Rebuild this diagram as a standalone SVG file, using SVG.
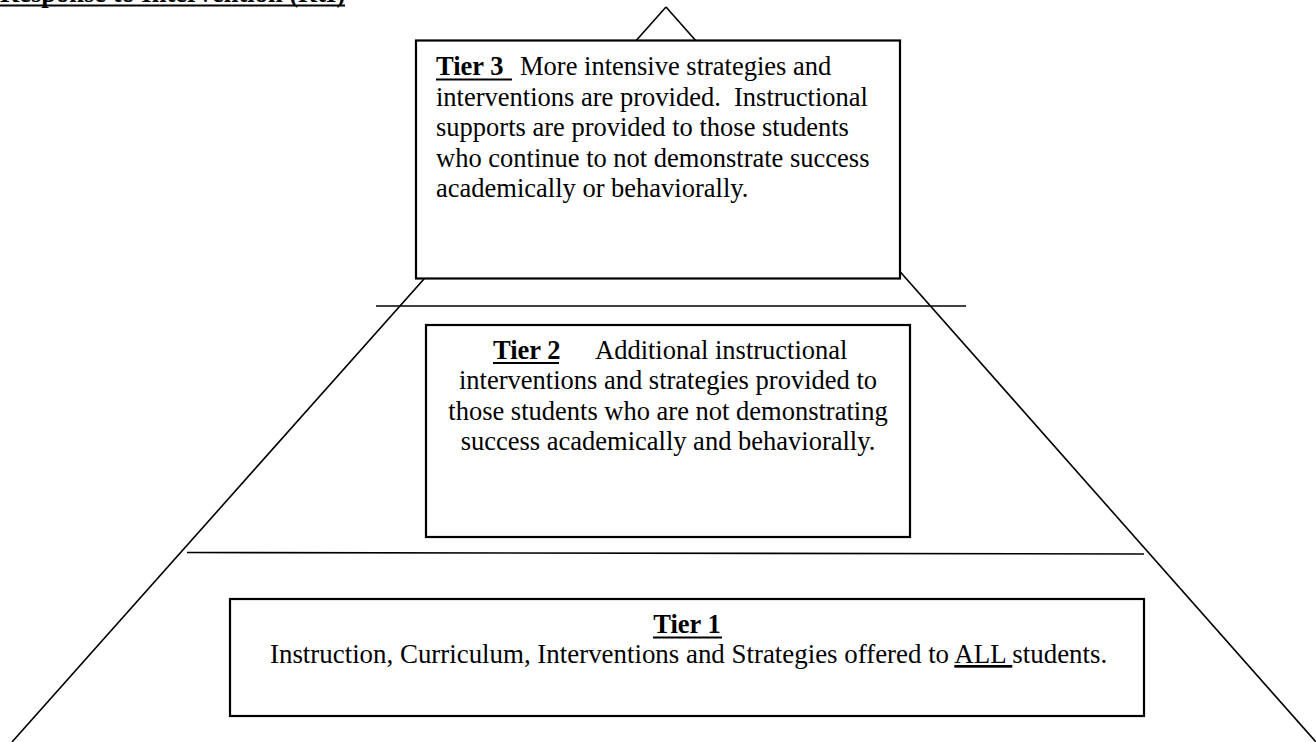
<svg xmlns="http://www.w3.org/2000/svg" width="1316" height="742" viewBox="0 0 1316 742">
<style>
.t{font-family:"Liberation Serif","Times New Roman",serif;font-size:26.5px;fill:#000;white-space:pre}
.b{font-weight:bold}
.box{fill:#fff;stroke:#000;stroke-width:2.2}
.ln{stroke:#000;stroke-width:1.6;fill:none}
.ul{stroke:#000;stroke-width:2}
</style>
<rect width="1316" height="742" fill="#fff"/>
<g id="title">
<text class="t b" x="0" y="2">Response to Intervention (RtI)</text>
<line class="ul" x1="0" y1="5.5" x2="345" y2="5.5" stroke-width="3"/>
</g>
<g id="connectors">
<line class="ln" x1="666" y1="7" x2="12" y2="742"/>
<line class="ln" x1="666" y1="7" x2="1316" y2="742"/>
<line class="ln" x1="376" y1="306" x2="966" y2="306"/>
<line class="ln" x1="187" y1="552.5" x2="1144" y2="554"/>
</g>
<g id="tier3">
<rect class="box" x="416" y="40.5" width="484" height="238"/>
<text class="t b" x="436" y="75">Tier 3</text>
<text class="t" x="520" y="75">More intensive strategies and</text>
<line class="ul" x1="436" y1="79.5" x2="512" y2="79.5"/>
<text class="t" x="436" y="105.5" xml:space="preserve">interventions are provided.  Instructional</text>
<text class="t" x="436" y="136">supports are provided to those students</text>
<text class="t" x="436" y="166.5">who continue to not demonstrate success</text>
<text class="t" x="436" y="197">academically or behaviorally.</text>
</g>
<g id="tier2">
<rect class="box" x="426" y="325" width="484" height="212"/>
<text class="t b" x="493" y="359">Tier 2</text>
<line class="ul" x1="493" y1="363" x2="559" y2="363"/>
<text class="t" x="595" y="359">Additional instructional</text>
<text class="t" x="668" y="389" text-anchor="middle">interventions and strategies provided to</text>
<text class="t" x="668" y="419.5" text-anchor="middle">those students who are not demonstrating</text>
<text class="t" x="668" y="450" text-anchor="middle">success academically and behaviorally.</text>
</g>
<g id="tier1">
<rect class="box" x="230" y="599" width="914" height="117"/>
<text class="t b" x="687" y="633" text-anchor="middle">Tier 1</text>
<line class="ul" x1="653" y1="637.5" x2="722" y2="637.5"/>
<text class="t" x="270" y="663" style="font-size:26.9px" xml:space="preserve">Instruction, Curriculum, Interventions and Strategies offered to <tspan text-decoration="underline">ALL </tspan>students.</text>
</g>
</svg>
